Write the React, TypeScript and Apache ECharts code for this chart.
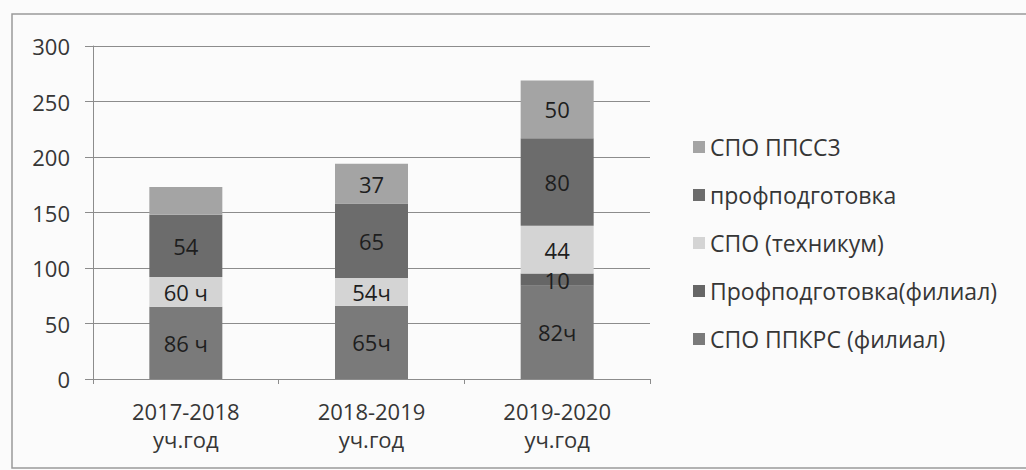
import React, { useEffect, useRef } from "react";
import * as echarts from "echarts";

const categories = ["2017-2018\nуч.год", "2018-2019\nуч.год", "2019-2020\nуч.год"];
const yTicks = { min: 0, max: 300, interval: 50 };

const seriesNames = [
  "СПО ППКРС (филиал)",
  "Профподготовка(филиал)",
  "СПО (техникум)",
  "профподготовка",
  "СПО ППСС3",
];
const sppkrsValues = [65, 66, 84];
const profFilialValues = [0, 0, 11];
const technikumValues = [27, 25, 43];
const profValues = [56, 67, 79];
const ppsszValues = [25, 36, 52];

const sppkrsLabels = ["86 ч", "65ч", "82ч"];
const profFilialLabels = ["", "", "10"];
const technikumLabels = ["60 ч", "54ч", "44"];
const profLabels = ["54", "65", "80"];
const ppsszLabels = ["", "37", "50"];

const seriesColors = ["#7a7a7a", "#666666", "#d4d4d4", "#6c6c6c", "#a4a4a4"];
const legendOrder = [
  "СПО ППСС3",
  "профподготовка",
  "СПО (техникум)",
  "Профподготовка(филиал)",
  "СПО ППКРС (филиал)",
];

const FONT = "'Open Sans', sans-serif";

export default function App() {
  const ref = useRef<HTMLDivElement>(null);
  useEffect(() => {
    if (!ref.current) return;
    const chart = echarts.init(ref.current, null, { renderer: "svg" });
    const values = [sppkrsValues, profFilialValues, technikumValues, profValues, ppsszValues];
    const labels = [sppkrsLabels, profFilialLabels, technikumLabels, profLabels, ppsszLabels];
    chart.setOption({
      animation: false,
      backgroundColor: "#fbfbfb",
      textStyle: { fontFamily: FONT },
      grid: { left: 93, right: 376, top: 46, bottom: 91, containLabel: false },
      legend: {
        orient: "vertical",
        left: 693,
        top: 135,
        padding: 0,
        itemWidth: 12,
        itemHeight: 12,
        itemGap: 24,
        icon: "rect",
        data: legendOrder,
        textStyle: { fontFamily: FONT, fontSize: 23, color: "#363636", lineHeight: 24, padding: [0, 0, 0, 0] },
      },
      xAxis: {
        type: "category",
        data: categories,
        axisLine: { show: true, lineStyle: { color: "#8c8c8c", width: 1 } },
        axisTick: { show: true, length: 5, lineStyle: { color: "#8c8c8c" } },
        axisLabel: { fontFamily: FONT, fontSize: 22, color: "#363636", lineHeight: 28, margin: 18 },
      },
      yAxis: {
        type: "value",
        min: yTicks.min,
        max: yTicks.max,
        interval: yTicks.interval,
        axisLine: { show: true, lineStyle: { color: "#8c8c8c", width: 1 } },
        axisTick: { show: true, length: 8, lineStyle: { color: "#8c8c8c" } },
        splitLine: { show: true, lineStyle: { color: "#8c8c8c", width: 1 } },
        axisLabel: { fontFamily: FONT, fontSize: 22, color: "#363636", margin: 23 },
      },
      graphic: [
        {
          type: "rect",
          shape: { x: 12, y: 14, width: 1024, height: 454 },
          style: { fill: "none", stroke: "#9a9a9a", lineWidth: 1.5 },
          silent: true,
        },
      ],
      series: seriesNames.map((name, i) => ({
        name,
        type: "bar",
        stack: "total",
        barWidth: 73,
        data: values[i],
        itemStyle: { color: seriesColors[i] },
        label: {
          show: true,
          position: "inside",
          fontFamily: FONT,
          fontSize: 22,
          color: "#1e1e1e",
          formatter: (p: any) => labels[i][p.dataIndex],
        },
      })),
    });
    return () => chart.dispose();
  }, []);
  return (
    <div
      ref={ref}
      style={{ position: "fixed", left: 0, top: 0, width: 1026, height: 470 }}
    />
  );
}
